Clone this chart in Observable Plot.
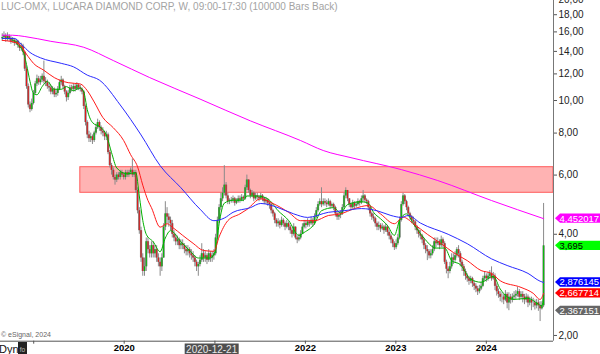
<!DOCTYPE html>
<html><head><meta charset="utf-8">
<script src="https://cdn.jsdelivr.net/npm/d3@7"></script>
<script src="https://cdn.jsdelivr.net/npm/@observablehq/plot@0.6"></script>
<style>
html,body{margin:0;padding:0;background:#fff;}
#chart{width:600px;height:354px;overflow:hidden;}
svg{display:block;}
</style></head><body><div id="chart"></div>
<script>
const title = "LUC-OMX, LUCARA DIAMOND CORP, W, 09:00-17:30 (100000 Bars Back)";
const caption = "\u00a9 eSignal, 2024";
const firstWeek = "2018-08-27";
const firstOpen = 15.3;

// weekly closes (SEK)
const closes = [
15.4,15.6,15.2,15.5,15.3,15.0,
15.1,14.8,15.0,14.6,
14.3,14.5,13.9,
12.4,11.0,9.7,
9.4,9.8,10.5,
11.2,11.6,11.3,11.5,11.8,11.4,11.3,11.0,
10.9,10.6,10.8,10.4,10.5,
10.8,11.3,11.5,11.0,10.6,
10.2,10.5,10.9,10.8,
11.0,10.8,11.1,10.9,10.8,10.6,
9.6,8.6,7.9,
7.7,7.8,7.6,
8.0,8.3,8.6,8.3,8.1,8.0,7.8,7.9,
7.0,6.4,
6.2,5.9,5.8,6.0,5.9,6.1,6.0,5.9,6.1,6.0,
6.1,6.2,6.0,6.1,
5.4,4.7,
4.1,3.4,3.1,3.2,
3.8,3.6,3.5,
3.7,3.5,3.6,3.4,3.3,
3.2,3.4,
4.2,4.6,
4.5,4.4,4.3,
4.0,3.9,3.8,3.85,3.7,3.75,
3.7,3.6,3.55,3.6,3.5,3.45,3.4,
3.3,3.2,3.25,3.35,
3.5,3.4,3.45,3.35,3.5,3.4,3.45,3.5,
3.9,4.4,4.8,5.1,
5.3,5.6,5.2,5.0,
5.02,5.05,5.1,4.95,5.0,5.1,5.05,5.15,5.1,
5.5,5.8,5.4,
5.2,5.3,5.1,5.2,5.15,5.1,5.2,5.1,5.0,5.05,4.95,
4.9,4.7,4.6,
4.4,4.3,4.35,4.25,4.4,4.3,4.2,4.3,
4.2,4.1,4.0,4.2,3.9,3.85,3.9,4.0,
4.2,4.3,4.25,4.35,4.3,4.4,4.3,
4.5,4.7,4.9,5.0,
4.9,5.0,4.95,4.9,5.0,4.85,4.9,4.8,
4.6,4.5,4.55,4.6,
4.8,5.2,5.4,5.1,
4.9,4.8,4.95,4.85,4.9,5.0,4.95,
5.1,5.2,5.05,5.0,
4.8,4.6,4.5,4.45,
4.3,4.2,4.25,4.15,4.2,4.1,4.2,4.05,
3.95,3.85,3.75,3.65,3.75,3.9,
4.4,4.9,5.2,5.0,
4.8,4.6,4.5,4.4,4.35,
4.2,4.1,4.0,3.95,3.85,
3.7,3.6,3.55,3.45,
3.5,3.6,3.8,
3.75,3.8,3.7,3.85,3.75,
3.3,3.15,3.1,3.2,
3.4,3.35,3.45,
3.6,3.5,
3.3,3.2,3.1,3.0,2.95,2.9,2.95,
2.85,2.8,2.75,2.7,2.75,2.8,
2.95,3.0,2.95,3.0,3.05,2.95,3.0,
2.8,2.7,2.65,2.6,
2.6,2.55,2.65,2.5,2.6,2.55,2.6,2.62,
2.65,2.7,2.6,2.65,
2.6,2.55,2.6,2.5,2.55,2.5,
2.5,2.45,2.5,2.45,2.4,2.45,
3.695
];

const highs = [
15.8,16.0,15.8,15.9,15.7,15.5,
15.4,15.3,15.2,15.1,
14.8,14.8,14.7,
14.0,12.6,11.2,
9.9,10.1,10.7,
11.4,11.9,11.8,11.8,12.0,13.1,11.7,11.5,
11.3,11.1,11.0,10.9,10.7,
11.0,11.5,11.8,11.6,11.1,
10.7,10.7,11.1,11.1,
11.2,11.2,11.3,11.2,11.1,10.9,
10.7,9.7,8.7,
8.1,8.0,7.9,
8.1,8.5,8.8,8.7,8.4,8.3,8.1,8.1,
8.0,7.1,
6.5,6.3,6.0,6.1,6.1,6.2,6.2,6.1,6.2,6.2,
6.2,6.3,6.7,6.2,
6.2,5.5,
4.8,4.2,3.5,3.4,
3.9,3.9,3.7,
3.8,3.8,3.7,3.7,3.5,
3.4,3.5,
4.3,5.0,
4.8,4.6,4.5,
4.4,4.1,4.0,3.95,3.9,3.85,
3.85,3.75,3.7,3.7,3.65,3.6,3.55,
3.45,3.35,3.3,3.45,
3.75,3.6,3.55,3.5,3.6,3.55,3.55,3.6,
4.0,4.5,4.9,5.3,
5.5,6.4,5.7,5.3,
5.1,5.15,5.2,5.15,5.1,5.2,5.2,5.25,5.2,
5.6,6.0,5.8,
5.45,5.4,5.35,5.3,5.3,5.2,5.3,5.25,5.15,5.15,5.1,
5.0,4.95,4.75,
4.65,4.45,4.45,4.4,4.5,4.45,4.35,4.4,
4.35,4.25,4.15,4.3,4.2,3.95,4.0,4.1,
4.3,4.4,4.4,4.45,4.4,4.5,4.45,
4.6,4.8,5.0,5.1,
5.5,5.1,5.1,5.05,5.1,5.05,4.95,4.95,
4.85,4.65,4.65,4.7,
4.9,5.3,5.5,5.4,
5.1,4.95,5.05,5.0,5.0,5.1,5.05,
5.2,5.4,5.25,5.1,
5.05,4.85,4.65,4.6,
4.5,4.35,4.35,4.3,4.3,4.25,4.3,4.25,
4.1,4.0,3.9,3.8,3.85,4.0,
4.5,5.0,5.3,5.25,
5.05,4.85,4.65,4.55,4.5,
4.4,4.25,4.15,4.1,4.0,
3.9,3.75,3.7,3.6,
3.6,3.7,3.9,
3.9,3.9,3.85,3.95,3.9,
3.8,3.35,3.2,3.3,
3.5,3.5,3.55,
3.65,3.7,
3.55,3.35,3.25,3.15,3.05,3.0,3.0,
2.98,2.9,2.85,2.8,2.82,2.88,
3.0,3.08,3.05,3.08,3.12,3.2,3.08,
3.05,2.85,2.75,2.7,
2.68,2.65,2.72,2.68,2.68,2.65,2.66,2.7,
2.72,2.78,2.74,2.7,
2.7,2.65,2.66,2.64,2.6,2.6,
2.58,2.55,2.56,2.55,2.52,2.52,
4.94
];

const lows = [
15.0,15.2,14.9,15.0,15.0,14.7,
14.8,14.5,14.6,14.3,
14.0,14.0,13.6,
12.2,10.8,9.5,
9.2,9.3,9.7,
10.4,11.0,11.1,11.1,11.3,11.2,11.0,10.8,
10.6,10.4,10.4,10.2,10.2,
10.3,10.7,11.1,10.8,10.4,
9.9,10.0,10.4,10.6,
10.6,10.6,10.7,10.7,10.6,10.4,
9.4,8.4,7.7,
7.5,7.5,7.4,
7.5,7.9,8.2,8.1,7.9,7.8,7.6,7.6,
6.9,6.3,
6.0,5.8,5.6,5.7,5.8,5.8,5.9,5.8,5.8,5.9,
5.9,6.0,5.9,5.9,
5.3,4.6,
4.0,3.3,3.0,3.0,
3.1,3.5,3.4,
3.4,3.4,3.4,3.3,3.2,
3.0,3.1,
3.4,4.1,
4.3,4.2,4.1,
3.9,3.8,3.7,3.7,3.6,3.6,
3.6,3.5,3.45,3.45,3.4,3.35,3.3,
3.2,3.1,3.0,3.2,
3.3,3.3,3.3,3.25,3.3,3.3,3.3,3.35,
3.45,3.85,4.3,4.7,
5.0,5.2,5.1,4.9,
4.9,4.95,4.95,4.85,4.9,4.95,4.95,5.0,5.0,
5.05,5.4,5.3,
5.1,5.15,5.0,5.05,5.05,5.0,5.05,5.0,4.9,4.9,4.85,
4.75,4.6,4.5,
4.3,4.2,4.2,4.15,4.2,4.2,4.1,4.15,
4.1,4.0,3.9,3.95,3.85,3.75,3.8,3.85,
4.0,4.15,4.15,4.2,4.2,4.25,4.2,
4.25,4.45,4.65,4.85,
4.8,4.85,4.85,4.8,4.85,4.75,4.8,4.7,
4.5,4.4,4.4,4.45,
4.55,4.75,5.1,5.0,
4.8,4.7,4.75,4.75,4.8,4.85,4.85,
4.9,5.0,4.95,4.9,
4.7,4.5,4.4,4.35,
4.2,4.1,4.1,4.05,4.1,4.0,4.05,3.95,
3.85,3.75,3.65,3.58,3.6,3.7,
3.85,4.35,4.85,4.9,
4.7,4.5,4.4,4.3,4.25,
4.1,4.0,3.9,3.85,3.75,
3.6,3.5,3.34,3.38,
3.38,3.45,3.55,
3.65,3.7,3.6,3.65,3.65,
3.25,3.05,2.95,3.05,
3.15,3.25,3.3,
3.4,3.4,
3.2,3.1,3.0,2.92,2.88,2.82,2.85,
2.78,2.72,2.68,2.63,2.66,2.72,
2.78,2.9,2.88,2.9,2.94,2.9,2.92,
2.72,2.62,2.58,2.52,
2.5,2.47,2.52,2.4,2.37,2.48,2.5,2.54,
2.56,2.6,2.54,2.56,
2.5,2.47,2.5,2.42,2.45,2.37,
2.42,2.38,2.4,2.36,2.2,2.38,
2.42
];

// moving averages: [week index, value]
const maGreen = [[0,15.3],[5,15.3],[9,14.6],[12,14.0],[14,12.8],[16,11.4],[18,10.5],[20,10.4],[23,11.0],[26,11.4],[30,10.8],[34,10.8],[37,11.0],[41,10.7],[45,10.9],[47,10.6],[49,9.4],[52,8.6],[57,8.3],[60,7.9],[63,7.0],[66,6.3],[72,6.05],[77,6.1],[79,5.2],[81,4.4],[83,4.0],[87,3.8],[91,3.55],[94,3.9],[97,4.1],[103,3.8],[108,3.58],[113,3.4],[120,3.4],[123,3.6],[125,4.3],[128,4.95],[133,5.05],[139,5.05],[141,5.2],[147,5.2],[153,5.1],[159,4.7],[165,4.4],[171,3.97],[174,4.05],[180,4.3],[184,4.7],[191,4.8],[195,4.63],[199,4.9],[207,5.0],[211,4.95],[214,4.65],[218,4.45],[222,4.25],[226,3.97],[229,4.4],[233,4.6],[237,4.3],[243,3.9],[250,3.64],[255,3.64],[259,3.34],[264,3.25],[270,2.94],[276,2.88],[283,3.0],[287,2.75],[295,2.56],[303,2.58],[309,2.48],[311,2.45],[312,2.63]];
const maRed = [[0,15.1],[9,14.8],[15,13.5],[18,12.9],[24,12.3],[30,11.7],[38,11.3],[45,11.2],[49,10.7],[53,9.9],[58,8.9],[64,8.3],[70,7.6],[74,6.9],[78,6.35],[81,5.6],[84,5.04],[86,4.8],[91,4.2],[95,4.3],[98,4.2],[104,3.97],[110,3.76],[116,3.58],[122,3.56],[125,3.93],[130,4.39],[137,4.6],[141,4.74],[149,5.1],[156,4.94],[165,4.65],[172,4.39],[180,4.39],[188,4.55],[195,4.6],[203,4.77],[211,4.87],[218,4.6],[226,4.3],[231,4.5],[237,4.3],[245,4.0],[253,3.75],[260,3.53],[268,3.34],[276,3.12],[282,3.06],[287,2.91],[299,2.78],[306,2.67],[310,2.56],[312,2.668]];
const maBlue = [[0,15.3],[7,15.3],[11,14.7],[16,13.9],[22,13.4],[34,12.9],[41,12.6],[49,11.9],[56,11.5],[68,9.7],[80,7.9],[91,6.4],[103,5.5],[114,4.75],[122,4.39],[128,4.47],[133,4.65],[143,4.8],[149,4.94],[159,4.8],[168,4.6],[176,4.49],[188,4.65],[197,4.7],[207,4.77],[216,4.7],[224,4.55],[230,4.49],[234,4.55],[241,4.32],[257,4.0],[268,3.75],[282,3.38],[291,3.23],[303,3.06],[310,2.9],[312,2.876]];
const maMagenta = [[0,15.64],[6,15.64],[13,15.5],[28,15.0],[47,14.4],[64,13.15],[85,11.7],[114,10.1],[143,8.7],[172,7.6],[185,7.1],[201,6.76],[230,6.23],[251,5.78],[282,5.04],[312,4.452]];

// resistance zone
const zoneStart = "2019-07-08";
const zoneEnd = "2024-09-28";
const zoneLow = 5.315;
const zoneHigh = 6.333;

// axes
const xDomain = ["2018-08-20", "2024-09-28"];
const yDomain = [1.923, 19.84];
const yTicks = [2,4,6,8,10,12,14,16,18,20];
const yearTicks = ["2019-01-01","2020-01-01","2021-01-01","2022-01-01","2023-01-01","2024-01-01"];
const yearLabels = ["","2020","","2022","2023","2024"];
const cursorDate = "2020-12-21";

// right-hand price tags
const tagValues = [4.452017, 3.695, 2.876145, 2.667714, 2.367151];
const tagTexts = ["4,452017", "3,695", "2,876145", "2,667714", "2,367151"];
const tagFills = ["#ff00ff", "#00ff00", "#0000ff", "#ff0000", "#666666"];
const tagInks = ["#ffffff", "#000000", "#ffffff", "#ffffff", "#ffffff"];

const FONT = "'Liberation Sans', Arial, Helvetica, sans-serif";
const DAY = 864e5;
const t0 = Date.parse(firstWeek);
const weekDate = w => new Date(t0 + w * 7 * DAY);

const n = Math.min(closes.length, highs.length, lows.length);
const bars = [];
for (let i = 0; i < n; i++) {
  const open = i ? closes[i - 1] : firstOpen;
  const close = closes[i];
  bars.push({
    date: weekDate(i), open, close,
    high: Math.max(highs[i], open, close),
    low: Math.min(lows[i], open, close)
  });
}
const up = bars.filter(d => d.close >= d.open);
const down = bars.filter(d => d.close < d.open);
const toLine = arr => arr.map(([w, v]) => ({date: weekDate(w), v}));
const labelByTime = new Map(yearTicks.map((d, i) => [Date.parse(d), yearLabels[i]]));

const plot = Plot.plot({
  width: 600,
  height: 354,
  marginTop: 0,
  marginBottom: 13.3,
  marginLeft: 0,
  marginRight: 47,
  style: {fontFamily: FONT, fontSize: "10px", background: "#fff", overflow: "visible"},
  x: {type: "utc", domain: xDomain.map(d => new Date(d))},
  y: {type: "log", domain: yDomain},
  marks: [
    Plot.rect([{x1: new Date(zoneStart), x2: new Date(zoneEnd), y1: zoneLow, y2: zoneHigh}],
      {x1: "x1", x2: "x2", y1: "y1", y2: "y2", fill: "#ffb3b3", stroke: "#ff5a5a", strokeWidth: 1}),
    Plot.ruleX(bars, {x: "date", y1: "low", y2: "high", stroke: "#8a8a8a", strokeWidth: 1, clip: true}),
    Plot.ruleX(bars, {x: "date", y1: "open", y2: "close", stroke: "#7a7a7a", strokeWidth: 2.2, clip: true}),
    Plot.ruleX(up, {x: "date", y1: "open", y2: "close", stroke: "#00c000", strokeWidth: 1, clip: true}),
    Plot.ruleX(down, {x: "date", y1: "open", y2: "close", stroke: "#e01818", strokeWidth: 1, clip: true}),
    Plot.line(toLine(maGreen), {x: "date", y: "v", stroke: "#00b000", strokeWidth: 1, curve: "monotone-x", clip: true}),
    Plot.line(toLine(maRed), {x: "date", y: "v", stroke: "#ff1a1a", strokeWidth: 1, curve: "monotone-x", clip: true}),
    Plot.line(toLine(maBlue), {x: "date", y: "v", stroke: "#2a2aff", strokeWidth: 1, curve: "monotone-x", clip: true}),
    Plot.line(toLine(maMagenta), {x: "date", y: "v", stroke: "#ff00ff", strokeWidth: 1, curve: "monotone-x", clip: true}),
    Plot.ruleY([yDomain[0]], {stroke: "#555"}),
    Plot.ruleX([new Date(xDomain[1])], {stroke: "#777"}),
    Plot.axisX(yearTicks.map(d => new Date(d)), {
      anchor: "bottom", tickSize: 3, tickPadding: 0.5, stroke: "#555",
      tickFormat: d => labelByTime.get(+d) ?? "",
      fontSize: 9.5, fontWeight: "bold", fill: "#000", label: null
    }),
    Plot.axisY(yTicks, {
      anchor: "right", tickSize: 3, tickPadding: 2, stroke: "#555",
      tickFormat: d => d.toFixed(2).replace(".", ","),
      fontSize: 10, fill: "#222", label: null
    })
  ]
});

document.getElementById("chart").appendChild(plot);

const xs = plot.scale("x"), ys = plot.scale("y");
const svg = d3.select(plot);
const g = svg.append("g").attr("font-family", FONT).attr("text-anchor", "start");

// title
g.append("text").attr("x", 1).attr("y", 10).attr("font-size", 10)
  .attr("fill", "#a3a3a3").text(title);
// caption
g.append("text").attr("x", 1).attr("y", 336.5).attr("font-size", 7)
  .attr("fill", "#666").text(caption);
// bottom-left Dyn + lock icon
g.append("text").attr("x", -1).attr("y", 353).attr("font-size", 11)
  .attr("fill", "#111").text("Dyn");
g.append("rect").attr("x", 18).attr("y", 342).attr("width", 9).attr("height", 12)
  .attr("fill", "#222");
g.append("text").attr("x", 22.5).attr("y", 352).attr("font-size", 6.5)
  .attr("text-anchor", "middle").attr("fill", "#bbb").text("fo");

// crosshair date label
const cx = xs.apply(new Date(cursorDate));
g.append("rect").attr("x", cx - 27).attr("y", 343.5).attr("width", 54).attr("height", 12)
  .attr("fill", "#4f4f4f");
g.append("text").attr("x", cx).attr("y", 352.5).attr("font-size", 10)
  .attr("text-anchor", "middle").attr("fill", "#e8e8e8").text(cursorDate);

// price tags
tagValues.forEach((v, i) => {
  const yc = ys.apply(v);
  const x0 = 555, x1 = 560, x2 = 600, h = 4.7;
  g.append("polygon")
    .attr("points", `${x0},${yc} ${x1},${yc - h} ${x2},${yc - h} ${x2},${yc + h} ${x1},${yc + h}`)
    .attr("fill", tagFills[i]);
  const t = g.append("text").attr("x", 559.5).attr("y", yc + 3.4).attr("font-size", 9.4)
    .attr("fill", tagInks[i]).text(tagTexts[i]);
  if (tagTexts[i].length > 6) t.attr("textLength", 39.5).attr("lengthAdjust", "spacingAndGlyphs");
});
</script>
</body></html>
